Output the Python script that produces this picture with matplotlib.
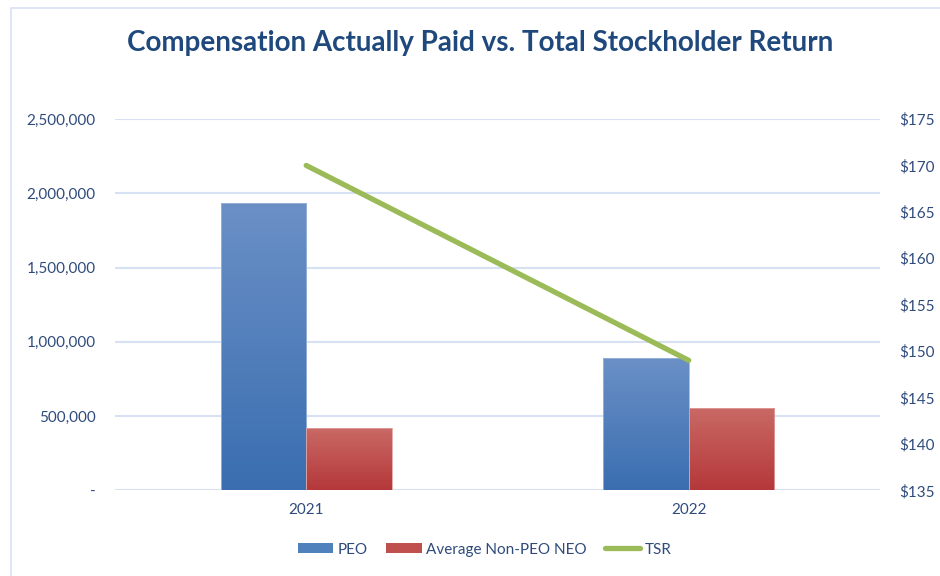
import matplotlib
matplotlib.use("Agg")
import matplotlib.pyplot as plt
import numpy as np
from matplotlib.patches import Rectangle
from matplotlib.lines import Line2D
from matplotlib.ticker import FuncFormatter

# chart data
years = ['2021', '2022']
peo = [1936000, 893000]
non_peo_neo = [417000, 552000]
tsr = [170, 149]

plt.rcParams['font.family'] = ['Lato', 'DejaVu Sans']
text_color = '#2F4B7C'
grid_color = '#D6E2F3'

fig = plt.figure(figsize=(9.4, 5.76), dpi=100)
ax = fig.add_axes([0.1223, 0.1488, 0.8138, 0.6446])
ax2 = ax.twinx()

x = np.arange(len(years))
w = 0.2235
bars1 = ax.bar(x - w / 2, peo, w, color='#4F81BD', edgecolor='#9DB6DA', linewidth=0.6, label='PEO', zorder=2)
bars2 = ax.bar(x + w / 2, non_peo_neo, w, color='#C0504D', edgecolor='#E0A09E', linewidth=0.6,
               label='Average Non-PEO NEO', zorder=2)

# vertical gradient fill for bars
def shade(bars, top, bottom):
    grad = np.linspace(0, 1, 256).reshape(-1, 1)
    cmap = matplotlib.colors.LinearSegmentedColormap.from_list('g', [bottom, top])
    for b in bars:
        x0, y0 = b.get_x(), b.get_y()
        im = ax.imshow(grad, extent=[x0, x0 + b.get_width(), y0, y0 + b.get_height()],
                       origin='lower', cmap=cmap, aspect='auto', zorder=2.5)
        im.set_clip_path(b)
        b.set_facecolor('none')
        b.set_zorder(3)

shade(bars1, '#6B90C6', '#3A6EB0')
shade(bars2, '#C96965', '#B5383A')

ax.set_xlim(-0.5, 1.5)
ax.set_ylim(0, 2500000)
ax.set_yticks(np.arange(0, 2500001, 500000))
ax.yaxis.set_major_formatter(FuncFormatter(lambda v, p: '-' if v == 0 else f'{int(v):,}'))
ax.set_xticks(x)
ax.set_xticklabels(years)
ax.grid(axis='y', color=grid_color, linewidth=1.5, zorder=0)
ax.set_axisbelow(True)

ax2.plot(x, tsr, color='#9BBB59', linewidth=3.8, solid_capstyle='round', zorder=4, label='TSR')
ax2.set_ylim(135, 175)
ax2.set_yticks(np.arange(135, 176, 5))
ax2.yaxis.set_major_formatter(FuncFormatter(lambda v, p: f'${int(v)}'))
ax.set_zorder(1)
ax2.set_zorder(2)
ax.patch.set_visible(False)

for a in (ax, ax2):
    for s in a.spines.values():
        s.set_visible(False)
    a.tick_params(length=0, labelsize=11, labelcolor=text_color)
ax.tick_params(axis='y', pad=14)
ax2.tick_params(axis='y', pad=14)
ax.tick_params(axis='x', pad=9)

fig.text(0.511, 0.926, 'Compensation Actually Paid vs. Total Stockholder Return',
         ha='center', va='center', fontsize=20, fontweight='bold', color='#1F497D')

handles = [Rectangle((0, 0), 1, 1, facecolor='#4F81BD'),
           Rectangle((0, 0), 1, 1, facecolor='#C0504D'),
           Line2D([0], [0], color='#9BBB59', linewidth=3.8, solid_capstyle='round')]
fig.legend(handles, ['PEO', 'Average Non-PEO NEO', 'TSR'], loc='center', bbox_to_anchor=(0.516, 0.046),
           ncol=3, frameon=False, fontsize=11, labelcolor=text_color, handlelength=2.3,
           handleheight=0.6, columnspacing=1.2, handletextpad=0.3)

# outer chart border
fig.add_artist(Rectangle((11 / 940, -0.05), 1.2, 1.05 - 8 / 576, transform=fig.transFigure,
                         fill=False, edgecolor='#D6E2F3', linewidth=1.2))

fig.savefig('out.png', dpi=100)
